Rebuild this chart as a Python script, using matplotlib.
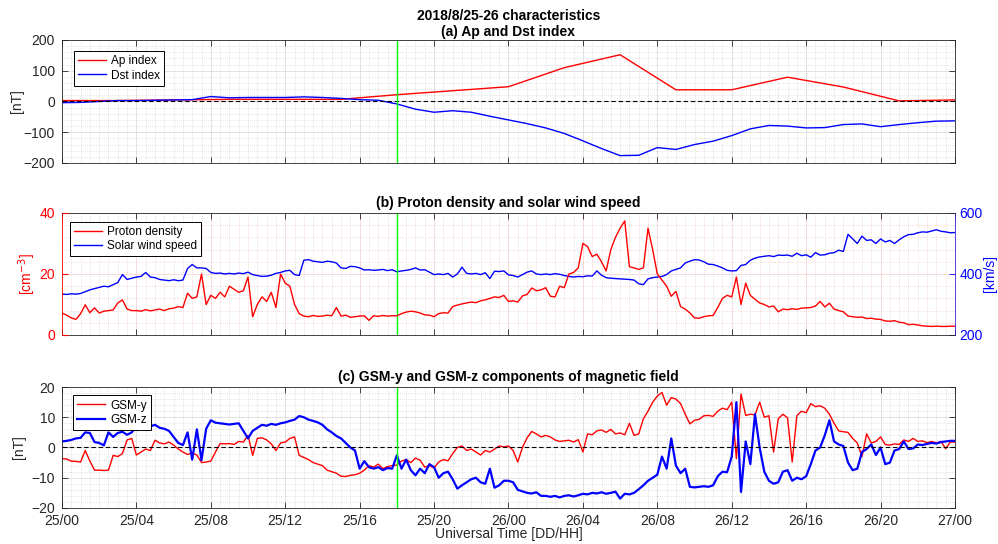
import numpy as np
import matplotlib.pyplot as plt
from matplotlib.ticker import MultipleLocator, FixedLocator

plt.rcParams['font.family'] = ['Liberation Sans', 'DejaVu Sans']

# time axis in hours since 2018-08-25 00:00 UT
tick_hours = [0, 4, 8, 12, 16, 20, 24, 28, 32, 36, 40, 44, 48]
tick_labels = ['25/00', '25/04', '25/08', '25/12', '25/16', '25/20', '26/00',
               '26/04', '26/08', '26/12', '26/16', '26/20', '27/00']
event_hour = 18

# 3-hourly Ap index
ap_hours = np.arange(0, 49, 3)
ap_index = [3, 3, 5, 7, 7, 7, 22, 35, 48, 110, 152, 38, 38, 79, 47, 2, 5]

# hourly Dst index
dst_hours = np.arange(0, 49)
dst_index = [-4, -3, 0, 3, 3, 4, 5, 6, 16, 12, 13, 13, 13, 15, 13, 10, 6, 4,
             -8, -25, -35, -30, -35, -48, -60, -72, -86, -104, -128, -153,
             -176, -175, -150, -156, -140, -129, -111, -89, -78, -80, -86,
             -85, -75, -73, -82, -75, -69, -64, -63]

# 15-minute solar wind samples
sw_hours = np.arange(0, 48.01, 0.25)

sw_speed = [
    334, 333, 335, 334, 336, 342, 348, 352, 356, 360, 358, 365,
    372, 398, 382, 386, 390, 392, 405, 390, 388, 382, 380, 378,
    381, 378, 380, 418, 431, 420, 420, 418, 405, 402, 403, 400,
    402, 400, 403, 401, 406, 398, 395, 392, 393, 396, 402, 405,
    410, 412, 398, 395, 445, 447, 442, 440, 438, 442, 440, 436,
    420, 418, 425, 424, 420, 413, 414, 412, 413, 415, 411, 414,
    407, 410, 412, 415, 420, 413, 414, 406, 398, 400, 398, 402,
    390, 400, 422, 402, 400, 402, 398, 404, 385, 409, 408, 410,
    397, 395, 390, 398, 406, 410, 400, 398, 400, 398, 401, 399,
    395, 392, 390, 392, 391, 394, 393, 410, 396, 388, 386, 385,
    384, 383, 382, 380, 368, 365, 384, 388, 390, 392, 398, 410,
    415, 420, 436, 442, 447, 446, 440, 432, 431, 426, 420, 412,
    410, 411, 428, 431, 445, 452, 456, 458, 460, 457, 462, 461,
    462, 458, 468, 460, 463, 455, 470, 462, 463, 468, 470, 478,
    474, 530, 515, 500, 524, 510, 512, 500, 515, 505, 510, 500,
    512, 522, 529, 530, 535, 538, 537, 541, 545, 540, 538, 535,
    536]

proton_density = [
    7.2, 6.5, 5.6, 5.1, 7.0, 9.9, 7.3, 8.9, 7.2, 7.8, 8.0, 8.2,
    10.5, 11.5, 8.5, 8.0, 8.0, 7.8, 8.3, 7.9, 8.2, 8.5, 8.0, 8.6,
    8.8, 9.3, 9.0, 13.7, 12.0, 12.5, 20.0, 10.0, 13.0, 12.0, 14.0, 12.5,
    16.0, 15.0, 14.0, 14.5, 19.0, 6.0, 10.0, 12.5, 11.0, 14.0, 9.0, 20.0,
    17.0, 16.0, 10.0, 7.0, 6.2, 6.0, 6.4, 6.1, 6.2, 6.5, 6.3, 9.0,
    6.2, 6.5, 5.8, 6.0, 6.2, 6.3, 4.8, 6.3, 6.1, 6.4, 6.2, 6.3,
    6.3, 7.0, 7.5, 7.8, 7.6, 7.2, 6.6, 6.5, 6.0, 7.0, 7.3, 7.2,
    9.3, 9.8, 10.2, 10.5, 10.8, 10.6, 11.2, 11.5, 12.0, 12.5, 12.3, 13.0,
    11.0, 11.2, 10.8, 12.8, 13.3, 15.4, 14.5, 14.8, 15.5, 12.7, 12.5, 16.0,
    15.5, 20.0, 20.5, 22.0, 30.0, 29.0, 25.7, 26.5, 24.0, 21.0, 28.0, 32.0,
    35.0, 37.4, 22.4, 22.0, 21.5, 22.0, 35.0, 28.0, 20.0, 18.0, 16.0, 12.7,
    14.3, 9.3, 8.5, 7.2, 5.6, 5.5, 6.0, 6.3, 6.4, 9.0, 12.0, 13.0,
    12.5, 19.0, 10.0, 17.0, 13.0, 11.7, 10.5, 10.0, 9.2, 9.5, 7.6, 8.5,
    8.3, 8.6, 8.4, 8.8, 8.9, 9.0, 9.5, 11.0, 9.2, 10.4, 8.5, 8.0,
    7.6, 6.2, 6.0, 5.8, 5.9, 5.4, 5.5, 5.2, 5.1, 4.6, 4.5, 4.7,
    4.2, 4.0, 3.4, 3.5, 3.3, 3.0, 2.9, 2.8, 2.9, 2.8, 2.8, 2.9,
    2.9]

gsm_y = [
    -3.7, -3.8, -4.5, -4.6, -4.8, -1.0, -4.5, -7.5, -7.5, -7.6, -7.5, -2.6,
    -3.0, -2.0, 2.5, 3.0, -2.5, -1.5, -0.5, -1.0, 2.4, 1.5, 1.2, 1.8,
    0.8, -0.5, -1.5, -2.3, -1.8, -2.5, -5.0, -4.8, -4.5, -1.5, 1.3, 1.2,
    1.3, 1.0, 2.0, 1.8, 4.0, -2.6, 3.0, 3.2, 2.5, 1.2, -1.0, 1.5,
    1.8, 3.0, 3.5, -2.6, -3.3, -4.0, -5.0, -5.5, -6.0, -7.5, -8.0, -8.5,
    -9.5, -9.6, -9.2, -9.0, -8.5, -7.5, -6.0, -6.5, -5.5, -7.0, -6.3, -6.0,
    -5.8, -4.5, -4.0, -5.0, -3.5, -4.2, -6.5, -6.0, -6.8, -4.8, -4.0, -4.4,
    -2.0, 0.0, 0.5, -1.0, -0.5, -1.5, -2.5, -1.0, -1.5, -0.5, 0.5, 0.2,
    0.5, -1.0, -4.8, 0.0, 3.2, 5.3, 4.5, 3.5, 4.0, 3.5, 2.5, 2.0,
    2.2, 2.4, 1.8, 2.6, -1.5, 4.5, 4.2, 5.5, 5.8, 5.0, 6.0, 4.5,
    4.8, 4.2, 8.0, 4.0, 4.5, 9.5, 12.0, 15.0, 17.0, 18.2, 14.0, 16.5,
    16.0, 14.5, 11.0, 7.8, 9.0, 9.3, 10.5, 10.6, 10.3, 12.0, 13.0, 12.5,
    15.0, -3.7, 17.7, 10.6, 11.0, 10.8, 15.0, 10.0, 10.5, -1.5, 9.5, 11.0,
    9.8, -4.8, 10.5, 12.0, 11.5, 14.5, 13.5, 13.8, 13.0, 11.0, 8.0, 5.5,
    5.2, 5.0, 3.0, 1.5, -3.0, 4.5, 1.5, 2.0, 3.5, 1.0, 0.8, 1.2,
    1.0, 2.5, 2.0, 3.0, 2.0, 2.2, 1.6, 2.0, 1.5, 2.0, -0.4, 1.8,
    1.8]

gsm_z = [
    2.0, 2.2, 2.5, 3.0, 3.2, 5.0, 4.8, 1.8, 1.5, 0.7, 5.0, 3.5,
    4.8, 5.2, 4.2, 5.0, 7.0, 7.4, 7.6, 7.0, 7.5, 6.5, 6.2, 5.5,
    3.5, 1.5, 0.8, 5.0, -4.0, 6.0, -4.2, 6.2, 9.0, 8.2, 8.0, 7.8,
    7.6, 7.8, 8.0, 5.5, 3.0, 5.5, 6.5, 7.5, 7.2, 7.8, 7.5, 8.0,
    8.3, 8.8, 9.2, 10.4, 10.0, 9.2, 8.8, 8.3, 7.5, 6.0, 5.0, 3.8,
    3.0, 1.5, 0.0, -1.0, -7.0, -4.5, -6.5, -7.0, -6.5, -7.5, -6.8, -7.0,
    -2.6, -7.0, -4.0, -7.5, -9.2, -7.0, -8.5, -5.5, -6.5, -10.0, -8.5, -8.0,
    -10.5, -13.6, -12.5, -11.5, -10.5, -10.0, -11.5, -12.0, -7.0, -13.3, -12.5, -11.0,
    -11.0, -11.5, -14.0, -14.5, -15.0, -15.2, -14.8, -16.0, -16.0, -16.3, -16.0, -16.5,
    -16.0, -15.8, -16.2, -15.8, -15.3, -15.5, -15.0, -15.2, -14.8, -15.3, -15.0, -14.6,
    -16.9, -15.3, -15.5, -15.0, -13.8, -12.5, -11.0, -10.0, -9.0, -3.0, -7.0, 3.0,
    -6.0, -8.5, -7.0, -13.0, -13.2, -13.0, -12.8, -13.0, -12.5, -9.5, -8.0, -8.2,
    -3.0, 15.0, -14.7, 2.0, -5.5, 11.0, 0.0, -8.0, -11.0, -12.0, -11.5, -8.0,
    -7.5, -11.0, -10.0, -10.5, -9.5, -5.5, -1.0, 0.0, 4.0, 9.0, 2.0, 1.0,
    0.5, -5.0, -7.5, -7.0, -1.5, -0.5, 1.0, -2.5, 0.0, -5.5, -5.0, -1.0,
    -0.5, 2.0, -0.5, -0.3, 1.0, 0.8, 1.2, 1.5, 1.3, 1.8, 2.0, 2.2,
    2.2]

AXC = '#262626'
GRID_MAJ = '#dcdcdc'
GRID_MIN = '#c8c8c8'


def style_axes(ax, grid_major=GRID_MAJ, grid_minor=GRID_MIN):
    ax.set_xlim(0, 48)
    ax.xaxis.set_major_locator(FixedLocator(tick_hours))
    ax.xaxis.set_minor_locator(MultipleLocator(0.5))
    ax.tick_params(which='major', direction='in', length=4, width=0.6,
                   top=True, right=True, labelsize=10, colors=AXC)
    ax.tick_params(axis='y', which='major', pad=5)
    ax.tick_params(axis='x', which='major', pad=4.6)
    ax.tick_params(which='minor', length=0, top=True, right=True)
    ax.grid(True, which='major', color=grid_major, lw=0.6, ls='-')
    ax.grid(True, which='minor', color=grid_minor, lw=0.5, ls=(0, (1, 2)))
    ax.set_axisbelow(True)
    for s in ax.spines.values():
        s.set_color(AXC)
        s.set_linewidth(0.6)


def boxed_legend(ax, *args, anchor):
    leg = ax.legend(*args, loc='upper left', bbox_to_anchor=anchor,
                    fontsize=8.5, fancybox=False, edgecolor='k',
                    framealpha=1, handlelength=2.4, borderpad=0.35,
                    labelspacing=0.2, handletextpad=0.4, borderaxespad=0)
    leg.get_frame().set_linewidth(0.7)
    return leg


fig = plt.figure(figsize=(9.98, 5.44), dpi=100)
left, width = 0.0621, 0.8948

# (a) Ap and Dst
ax1 = fig.add_axes([left, 0.7004, width, 0.2261])
style_axes(ax1)
ax1.plot(ap_hours, ap_index, color='red', lw=1.0, label='Ap index')
ax1.plot(dst_hours, dst_index, color='blue', lw=1.0, label='Dst index')
ax1.axhline(0, color='k', ls='--', lw=0.8, dashes=(4, 2.5))
ax1.axvline(event_hour, color=(0, 1, 0), lw=1.0)
ax1.set_ylim(-200, 200)
ax1.yaxis.set_major_locator(MultipleLocator(100))
ax1.yaxis.set_minor_locator(MultipleLocator(20))
ax1.set_xticklabels([])
ax1.set_ylabel('[nT]', fontsize=10, color=AXC, labelpad=0)
ax1.set_title('2018/8/25-26 characteristics\n(a) Ap and Dst index',
              fontsize=10, fontweight='bold', pad=3, linespacing=1.15)
boxed_legend(ax1, anchor=(0.013, 0.91))

# (b) proton density and solar wind speed
ax2r = fig.add_axes([left, 0.3842, width, 0.2243])
ax2 = ax2r.twinx()
ax2.yaxis.tick_left()
ax2.yaxis.set_label_position('left')
ax2r.yaxis.tick_right()
ax2r.yaxis.set_label_position('right')
style_axes(ax2r, grid_major='#f4d4d4', grid_minor='#eab8b8')
ax2.set_xlim(0, 48)
ax2.patch.set_visible(False)
ax2r.plot(sw_hours, sw_speed, color='blue', lw=1.0)
ax2r.axvline(event_hour, color=(0, 1, 0), lw=1.0)
ax2r.set_ylim(200, 600)
ax2r.yaxis.set_major_locator(MultipleLocator(200))
ax2r.yaxis.set_minor_locator(MultipleLocator(40))
ax2r.tick_params(axis='y', which='major', colors='blue', labelsize=10,
                 left=False, right=True, direction='in', length=4, pad=3)
ax2r.set_ylabel('[km/s]', fontsize=10, color='blue', labelpad=0)
ax2r.set_xticklabels([])

ax2.plot(sw_hours, proton_density, color='red', lw=1.0)
ax2.set_ylim(0, 40)
ax2.yaxis.set_major_locator(MultipleLocator(20))
ax2.tick_params(axis='y', which='major', colors='red', labelsize=10,
                direction='in', length=4, left=True, right=False, pad=5)
ax2.set_ylabel('[cm$^{-3}$]', fontsize=10, color='red', labelpad=1)
for s in ax2.spines.values():
    s.set_visible(False)
ax2r.spines['left'].set_color('red')
ax2r.spines['right'].set_color('#3a1fd8')
ax2r.set_title('(b) Proton density and solar wind speed', fontsize=10,
               fontweight='bold', pad=4)
h_den = plt.Line2D([], [], color='red', lw=1.0)
h_spd = plt.Line2D([], [], color='blue', lw=1.0)
boxed_legend(ax2, [h_den, h_spd], ['Proton density', 'Solar wind speed'],
             anchor=(0.009, 0.93))

# (c) GSM-y and GSM-z
ax3 = fig.add_axes([left, 0.0662, width, 0.2224])
style_axes(ax3)
ax3.plot(sw_hours, gsm_y, color='red', lw=1.0, label='GSM-y')
ax3.plot(sw_hours, gsm_z, color='blue', lw=1.6, label='GSM-z')
ax3.axhline(0, color='k', ls='--', lw=0.8, dashes=(4, 2.5))
ax3.axvline(event_hour, color=(0, 1, 0), lw=1.0)
ax3.set_ylim(-20, 20)
ax3.yaxis.set_major_locator(MultipleLocator(10))
ax3.yaxis.set_minor_locator(MultipleLocator(2))
ax3.set_xticklabels(tick_labels)
ax3.set_ylabel('[nT]', fontsize=10, color=AXC, labelpad=4)
ax3.set_xlabel('Universal Time [DD/HH]', fontsize=10, color=AXC, labelpad=-1)
ax3.set_title('(c) GSM-y and GSM-z components of magnetic field',
              fontsize=10, fontweight='bold', pad=4)
boxed_legend(ax3, anchor=(0.012, 0.93))

fig.savefig('out.png', dpi=100)
